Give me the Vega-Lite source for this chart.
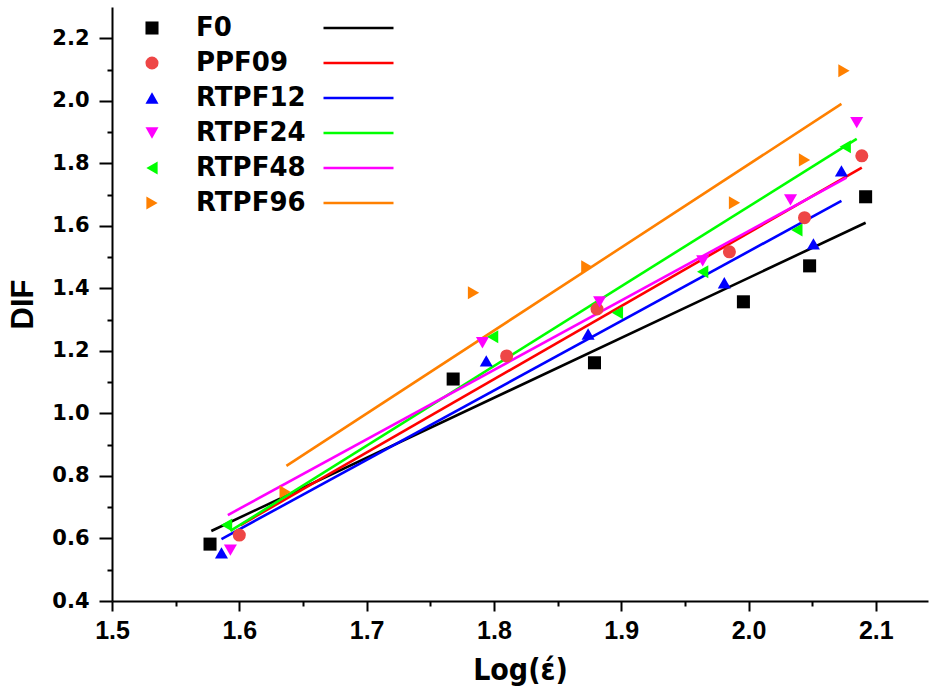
{
  "$schema": "https://vega.github.io/schema/vega-lite/v6.json",
  "width": 816,
  "height": 594,
  "autosize": "none",
  "padding": {"left": 112, "top": 7, "right": 4, "bottom": 97},
  "background": "white",
  "config": {"view": {"stroke": null}},
  "datasets": {
    "pts": [
      {"s": "F0", "x": 1.577, "y": 0.582},
      {"s": "F0", "x": 1.768, "y": 1.110},
      {"s": "F0", "x": 1.879, "y": 1.162},
      {"s": "F0", "x": 1.996, "y": 1.357},
      {"s": "F0", "x": 2.048, "y": 1.472},
      {"s": "F0", "x": 2.092, "y": 1.693},
      {"s": "PPF09", "x": 1.600, "y": 0.611},
      {"s": "PPF09", "x": 1.810, "y": 1.184},
      {"s": "PPF09", "x": 1.881, "y": 1.334},
      {"s": "PPF09", "x": 1.985, "y": 1.517},
      {"s": "PPF09", "x": 2.044, "y": 1.626},
      {"s": "PPF09", "x": 2.089, "y": 1.824},
      {"s": "RTPF12", "x": 1.586, "y": 0.554},
      {"s": "RTPF12", "x": 1.794, "y": 1.168},
      {"s": "RTPF12", "x": 1.874, "y": 1.254},
      {"s": "RTPF12", "x": 1.981, "y": 1.418},
      {"s": "RTPF12", "x": 2.051, "y": 1.542},
      {"s": "RTPF12", "x": 2.073, "y": 1.776},
      {"s": "RTPF24", "x": 1.593, "y": 0.563},
      {"s": "RTPF24", "x": 1.791, "y": 1.226},
      {"s": "RTPF24", "x": 1.883, "y": 1.357},
      {"s": "RTPF24", "x": 1.964, "y": 1.488},
      {"s": "RTPF24", "x": 2.033, "y": 1.683},
      {"s": "RTPF24", "x": 2.085, "y": 1.930},
      {"s": "RTPF48", "x": 1.590, "y": 0.643},
      {"s": "RTPF48", "x": 1.799, "y": 1.245},
      {"s": "RTPF48", "x": 1.897, "y": 1.322},
      {"s": "RTPF48", "x": 1.964, "y": 1.453},
      {"s": "RTPF48", "x": 2.038, "y": 1.587},
      {"s": "RTPF48", "x": 2.076, "y": 1.853},
      {"s": "RTPF96", "x": 1.636, "y": 0.749},
      {"s": "RTPF96", "x": 1.784, "y": 1.386},
      {"s": "RTPF96", "x": 1.873, "y": 1.469},
      {"s": "RTPF96", "x": 1.989, "y": 1.674},
      {"s": "RTPF96", "x": 2.044, "y": 1.811},
      {"s": "RTPF96", "x": 2.075, "y": 2.096}
    ],
    "fit": [
      {"g": "F0 fit", "x": 1.578, "y": 0.624},
      {"g": "F0 fit", "x": 2.092, "y": 1.610},
      {"g": "PPF09 fit", "x": 1.601, "y": 0.643},
      {"g": "PPF09 fit", "x": 2.089, "y": 1.786},
      {"g": "RTPF12 fit", "x": 1.586, "y": 0.598},
      {"g": "RTPF12 fit", "x": 2.073, "y": 1.680},
      {"g": "RTPF24 fit", "x": 1.593, "y": 0.624},
      {"g": "RTPF24 fit", "x": 2.085, "y": 1.878},
      {"g": "RTPF48 fit", "x": 1.591, "y": 0.675},
      {"g": "RTPF48 fit", "x": 2.077, "y": 1.754},
      {"g": "RTPF96 fit", "x": 1.637, "y": 0.832},
      {"g": "RTPF96 fit", "x": 2.073, "y": 1.990}
    ]
  },
  "layer": [
    {
      "data": {"name": "fit"},
      "mark": {"type": "line", "strokeWidth": 2.6, "clip": true},
      "encoding": {
        "x": {
          "field": "x", "type": "quantitative",
          "scale": {"domain": [1.5, 2.141], "nice": false, "zero": false},
          "axis": {
            "values": [1.5, 1.6, 1.7, 1.8, 1.9, 2.0, 2.1],
            "format": ".1f", "grid": false,
            "domainColor": "black", "domainWidth": 2,
            "tickColor": "black", "tickWidth": 2, "tickSize": 10,
            "labelFont": "Liberation Sans", "labelFontWeight": "bold", "labelFontSize": 25,
            "labelColor": "black", "labelPadding": 7, "labelFlush": false,
            "title": "Log(έ)", "titleFont": "DejaVu Sans Condensed, Liberation Sans", "titleFontWeight": "bold",
            "titleFontSize": 30, "titleColor": "black", "titlePadding": 12
          }
        },
        "y": {
          "field": "y", "type": "quantitative",
          "scale": {"domain": [0.4, 2.3], "nice": false, "zero": false},
          "axis": {
            "values": [0.4, 0.6, 0.8, 1.0, 1.2, 1.4, 1.6, 1.8, 2.0, 2.2],
            "format": ".1f", "grid": false,
            "domainColor": "black", "domainWidth": 2,
            "tickColor": "black", "tickWidth": 2, "tickSize": 13,
            "labelFont": "DejaVu Sans", "labelFontWeight": "bold", "labelFontSize": 21,
            "labelColor": "black", "labelPadding": 10, "labelFlush": false,
            "title": "DIF", "titleFont": "Liberation Sans", "titleFontWeight": "bold",
            "titleFontSize": 31, "titleColor": "black", "titlePadding": 12
          }
        },
        "stroke": {
          "field": "g", "type": "nominal",
          "scale": {
            "domain": ["F0 fit", "PPF09 fit", "RTPF12 fit", "RTPF24 fit", "RTPF48 fit", "RTPF96 fit"],
            "range": ["#000000", "#ff0000", "#0000ff", "#00ff00", "#ff00ff", "#ff8000"]
          },
          "legend": {
            "orient": "none", "legendX": 210, "legendY": 8, "title": null,
            "symbolType": "stroke", "symbolSize": 4900, "symbolStrokeWidth": 2.6,
            "labelExpr": "''", "labelFontSize": 26, "rowPadding": 9, "padding": 0,
            "clipHeight": 26
          }
        }
      }
    },
    {
      "data": {"name": "pts"},
      "mark": {"type": "point", "filled": true, "opacity": 1, "size": 170, "strokeWidth": 0},
      "encoding": {
        "x": {
          "field": "x", "type": "quantitative",
          "axis": {
            "values": [1.55, 1.65, 1.75, 1.85, 1.95, 2.05],
            "labels": false, "domain": false, "grid": false, "title": null,
            "tickColor": "black", "tickWidth": 2, "tickSize": 5, "orient": "bottom"
          }
        },
        "y": {
          "field": "y", "type": "quantitative",
          "axis": {
            "values": [0.5, 0.7, 0.9, 1.1, 1.3, 1.5, 1.7, 1.9, 2.1],
            "labels": false, "domain": false, "grid": false, "title": null,
            "tickColor": "black", "tickWidth": 2, "tickSize": 5, "orient": "left"
          }
        },
        "fill": {
          "field": "s", "type": "nominal",
          "scale": {
            "domain": ["F0", "PPF09", "RTPF12", "RTPF24", "RTPF48", "RTPF96"],
            "range": ["#000000", "#ee4646", "#0000ff", "#ff00ff", "#00ff00", "#ff8000"]
          },
          "legend": {
            "orient": "none", "legendX": 27, "legendY": 8, "title": null,
            "labelFont": "DejaVu Sans", "labelFontWeight": "bold", "labelFontSize": 26,
            "labelColor": "black", "symbolSize": 170, "labelOffset": 31, "rowPadding": 9,
            "padding": 0, "symbolStrokeWidth": 0
          }
        },
        "shape": {
          "field": "s", "type": "nominal",
          "scale": {
            "domain": ["F0", "PPF09", "RTPF12", "RTPF24", "RTPF48", "RTPF96"],
            "range": ["square", "circle", "triangle-up", "triangle-down", "triangle-left", "triangle-right"]
          },
          "legend": {
            "orient": "none", "legendX": 27, "legendY": 8, "title": null,
            "labelFont": "DejaVu Sans", "labelFontWeight": "bold", "labelFontSize": 26,
            "labelColor": "black", "symbolSize": 170, "labelOffset": 31, "rowPadding": 9,
            "padding": 0, "symbolStrokeWidth": 0
          }
        }
      }
    }
  ],
  "resolve": {"axis": {"x": "independent", "y": "independent"}}
}
